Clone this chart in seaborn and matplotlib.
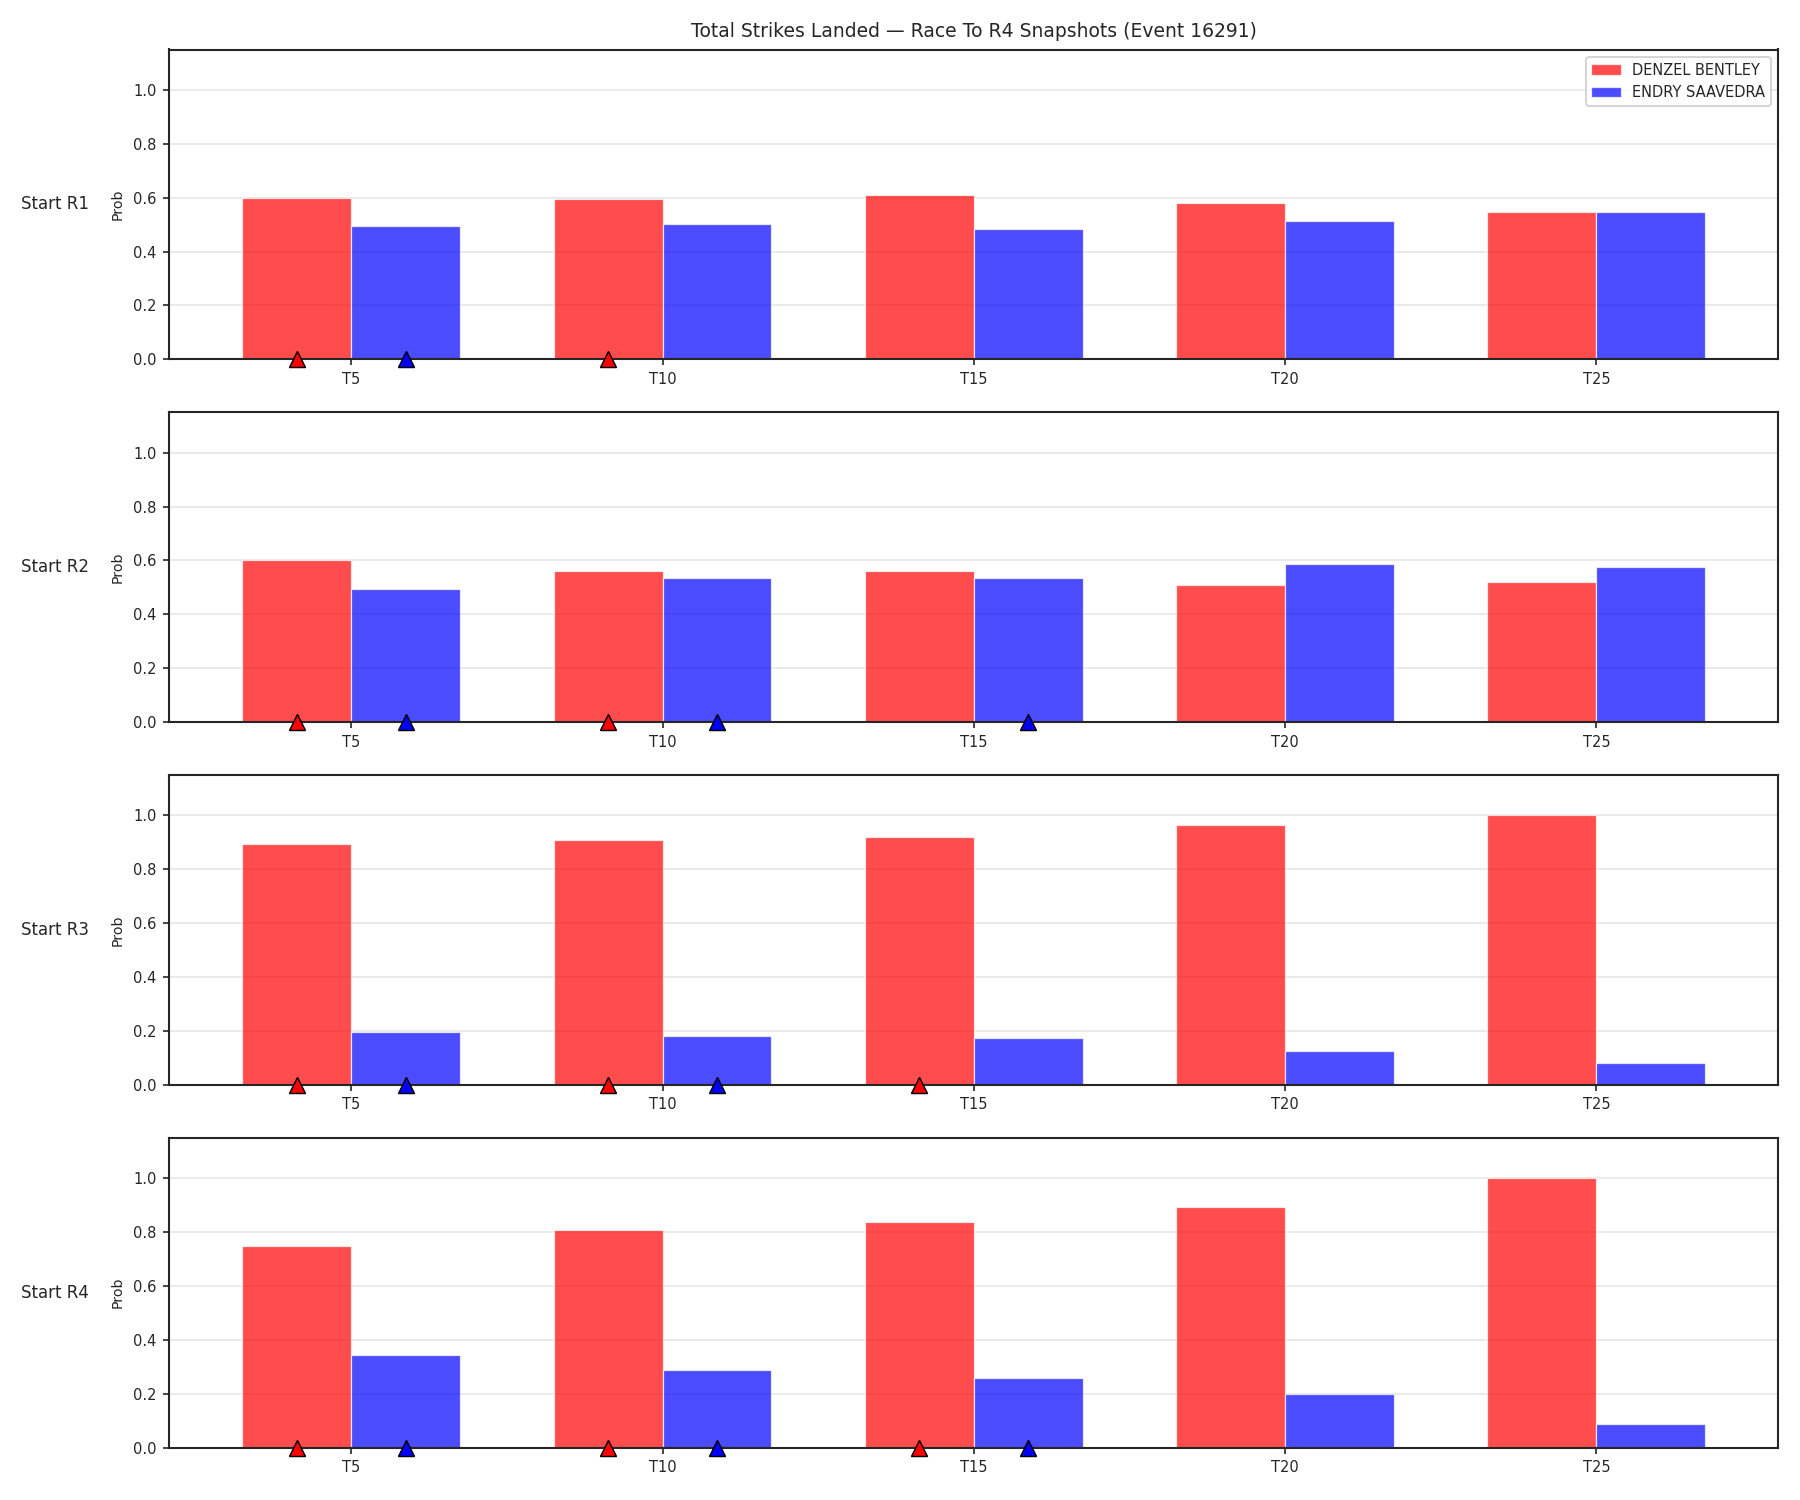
import matplotlib
matplotlib.use("Agg")
import matplotlib.pyplot as plt
import numpy as np
import pandas as pd
import seaborn as sns

# thresholds (x categories) and fighters
thresholds = ["T5", "T10", "T15", "T20", "T25"]
fighter_a = "DENZEL BENTLEY"
fighter_b = "ENDRY SAAVEDRA"
snapshots = ["Start R1", "Start R2", "Start R3", "Start R4"]

# probability of reaching each threshold, one list per snapshot
prob_a = [
    [0.60, 0.594, 0.609, 0.580, 0.547],
    [0.601, 0.560, 0.560, 0.509, 0.519],
    [0.894, 0.909, 0.920, 0.965, 1.00],
    [0.749, 0.808, 0.838, 0.894, 1.00],
]
prob_b = [
    [0.494, 0.501, 0.483, 0.514, 0.547],
    [0.494, 0.534, 0.534, 0.587, 0.576],
    [0.197, 0.182, 0.172, 0.126, 0.079],
    [0.345, 0.287, 0.257, 0.200, 0.087],
]

# thresholds already reached at the snapshot (triangle markers)
hit_a = [
    [True, True, False, False, False],
    [True, True, False, False, False],
    [True, True, True, False, False],
    [True, True, True, False, False],
]
hit_b = [
    [True, False, False, False, False],
    [True, True, True, False, False],
    [True, True, False, False, False],
    [True, True, True, False, False],
]

sns.set_theme(style="white")
plt.rcParams["font.family"] = ["DejaVu Sans"]

fig, axes = plt.subplots(4, 1, figsize=(12, 10), dpi=150)
fig.subplots_adjust(left=0.094, right=0.988, top=0.967, bottom=0.035, hspace=0.171)

palette = {fighter_a: "red", fighter_b: "blue"}
bar_w = 0.35

for i, ax in enumerate(axes):
    df = pd.DataFrame({
        "threshold": thresholds * 2,
        "fighter": [fighter_a] * 5 + [fighter_b] * 5,
        "prob": prob_a[i] + prob_b[i],
    })
    sns.barplot(data=df, x="threshold", y="prob", hue="fighter", order=thresholds,
                hue_order=[fighter_a, fighter_b], palette=palette, width=2 * bar_w,
                saturation=1, alpha=0.7, edgecolor="white", linewidth=0.6,
                errorbar=None, ax=ax, legend=(i == 0))

    # markers for thresholds already reached
    idx = np.arange(len(thresholds))
    xa = idx[np.array(hit_a[i])] - bar_w / 2
    xb = idx[np.array(hit_b[i])] + bar_w / 2
    ax.plot(xa, np.zeros(len(xa)), linestyle="none", marker="^", markersize=7.8,
            color="red", markeredgecolor="black", markeredgewidth=0.7,
            clip_on=False, zorder=5)
    ax.plot(xb, np.zeros(len(xb)), linestyle="none", marker="^", markersize=7.8,
            color="blue", markeredgecolor="black", markeredgewidth=0.7,
            clip_on=False, zorder=5)

    ax.set_xlim(-0.585, len(thresholds) - 1 + 0.585)
    ax.set_ylim(0, 1.15)
    ax.set_yticks([0.0, 0.2, 0.4, 0.6, 0.8, 1.0])
    ax.yaxis.grid(True, color="0.9", linewidth=0.8)
    ax.set_xlabel("")
    ax.set_ylabel("Prob", fontsize=6.8)
    ax.tick_params(labelsize=7, length=3, width=0.8, bottom=True, left=True, pad=3)
    for s in ax.spines.values():
        s.set_visible(True)
        s.set_color("0.15")
        s.set_linewidth(1.0)
    ax.text(-0.05, 0.5, snapshots[i], transform=ax.transAxes,
            ha="right", va="center", fontsize=8)

    if i == 0:
        ax.set_title("Total Strikes Landed \u2014 Race To R4 Snapshots (Event 16291)", fontsize=9)
        ax.legend(loc="upper right", fontsize=7, title=None)

fig.savefig("out.png", dpi=150)
